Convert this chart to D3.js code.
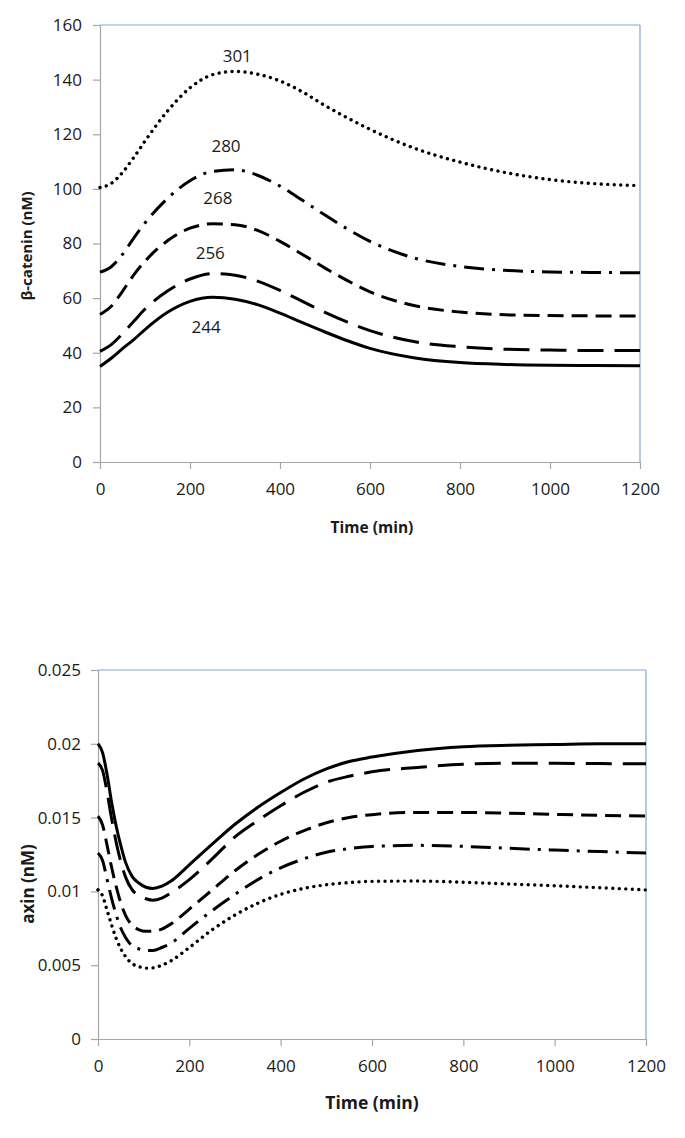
<!DOCTYPE html>
<html>
<head>
<meta charset="utf-8">
<script src="https://cdn.jsdelivr.net/npm/d3@7"></script>
<style>
  html, body { margin: 0; padding: 0; background: #fff; }
  svg { display: block; }
  text { font-family: "Open Sans", "Liberation Sans", sans-serif; fill: #1a1a1a; }
</style>
</head>
<body>
<svg id="chart" width="685" height="1138"></svg>
<script>
// ---------- DATA ----------
// Top panel: beta-catenin (nM) vs time (min)
const bcatTime = [0,25,50,75,100,150,200,250,300,350,400,450,500,550,600,700,800,900,1000,1100,1200];
const bcatSolid   = [35.0,38.0,41.5,44.8,48.5,54.8,58.8,60.3,59.6,57.6,54.5,51.0,47.6,44.4,41.6,38.1,36.4,35.7,35.4,35.3,35.2];
const bcatLong    = [40.5,43.0,47.0,51.5,56.0,62.6,67.0,69.0,68.4,66.2,62.8,58.8,54.8,51.2,48.1,44.0,42.2,41.3,41.0,40.8,40.8];
const bcatMedium  = [54.0,57.0,62.5,68.5,73.5,81.0,85.6,87.2,86.9,84.8,80.8,76.0,71.0,66.4,62.3,57.2,54.9,53.9,53.6,53.5,53.5];
const bcatDashDot = [69.5,71.5,76.0,82.0,87.5,96.5,103.0,106.4,107.0,105.0,101.0,95.8,90.4,85.3,80.8,74.6,71.6,70.2,69.6,69.4,69.3];
const bcatDotted  = [100.5,102.0,106.0,111.5,117.5,128.5,137.0,141.8,143.0,142.0,139.5,135.5,130.5,126.0,121.8,114.8,109.8,106.0,103.4,101.9,101.2];
// peak-time annotations (label, x time, y value)
const peakLabels = ["244","256","268","280","301"];
const peakLabelX = [236,245,262,280,305];
const peakLabelY = [49,76,96,115,148];

// Bottom panel: axin (nM) vs time (min)
const axinTime = [0,10,20,30,40,50,60,75,90,105,120,140,160,200,250,300,350,400,450,500,550,600,700,800,900,1000,1100,1200];
const axinSolid   = [0.0200,0.0194,0.0179,0.0160,0.0144,0.0131,0.0120,0.0110,0.01055,0.01028,0.0102,0.01035,0.0107,0.0118,0.0132,0.01455,0.0157,0.0167,0.0176,0.0183,0.0188,0.0191,0.01955,0.0198,0.0199,0.01995,0.0200,0.0200];
const axinLong    = [0.0187,0.0182,0.0167,0.0149,0.0133,0.0120,0.0110,0.0101,0.0097,0.0095,0.0094,0.00955,0.0099,0.0108,0.0122,0.0137,0.0148,0.0158,0.0167,0.0174,0.0178,0.0181,0.0184,0.01862,0.01868,0.01868,0.01866,0.01865];
const axinMedium  = [0.0151,0.0145,0.0131,0.0116,0.0103,0.0092,0.0084,0.0077,0.0074,0.0073,0.0073,0.00745,0.0078,0.0088,0.0101,0.0114,0.0125,0.0134,0.0141,0.01465,0.0150,0.0152,0.01535,0.01535,0.0153,0.01522,0.01515,0.0151];
const axinDashDot = [0.0126,0.0121,0.0108,0.0095,0.0084,0.0075,0.0069,0.0063,0.0061,0.0060,0.0060,0.0062,0.0065,0.0075,0.0087,0.0098,0.0108,0.0116,0.0122,0.01265,0.0129,0.01305,0.01312,0.01305,0.01292,0.0128,0.0127,0.0126];
const axinDotted  = [0.0101,0.0097,0.0087,0.0077,0.0068,0.0061,0.0056,0.0051,0.0049,0.0048,0.00482,0.0050,0.0053,0.0062,0.0074,0.0084,0.0092,0.0098,0.0102,0.01045,0.0106,0.01068,0.0107,0.01062,0.0105,0.01038,0.01025,0.0101];

const xTicks = [0,200,400,600,800,1000,1200];
const bcatTicks = [0,20,40,60,80,100,120,140,160];
const axinTicks = [0,0.005,0.01,0.015,0.02,0.025];
const axinTickLabels = ["0","0.005","0.01","0.015","0.02","0.025"];

// ---------- STYLES ----------
const lineStyles = {
  solid:   { dash: null,        width: 3,   cap: "butt" },
  long:    { dash: "26,11",     width: 3,   cap: "butt" },
  medium:  { dash: "16,8",      width: 3,   cap: "butt" },
  dashdot: { dash: "20,8,3,8",  width: 3,   cap: "butt" },
  dotted:  { dash: "0.01,6.5",  width: 3.4, cap: "round" }
};

const svg = d3.select("#chart");

function drawPanel(cfg) {
  const g = svg.append("g");
  const x = d3.scaleLinear().domain([0, 1200]).range([cfg.left, cfg.right]);
  const y = d3.scaleLinear().domain(cfg.yDomain).range([cfg.bottom, cfg.top]);

  const xAxis = d3.axisBottom(x).tickValues(xTicks).tickSize(7).tickSizeOuter(0).tickPadding(cfg.xPad)
    .tickFormat(d3.format("d"));
  const yAxis = d3.axisLeft(y).tickValues(cfg.yTicks).tickSize(7).tickSizeOuter(0).tickPadding(cfg.yPad)
    .tickFormat((d, i) => cfg.yLabels ? cfg.yLabels[i] : d);

  const gx = g.append("g").attr("transform", `translate(0,${cfg.bottom})`).call(xAxis);
  const gy = g.append("g").attr("transform", `translate(${cfg.left},0)`).call(yAxis);
  [gx, gy].forEach(a => {
    a.select(".domain").attr("stroke", "#a6a6a6").attr("stroke-width", 1.2);
    a.selectAll(".tick line").attr("stroke", "#a6a6a6").attr("stroke-width", 1.2);
    a.selectAll(".tick text").style("font-size", cfg.tickFont + "px").attr("fill", "#262626")
      .style("font-family", '"Open Sans", sans-serif');
  });

  g.append("line").attr("x1", cfg.left).attr("x2", cfg.right).attr("y1", cfg.top).attr("y2", cfg.top)
    .attr("stroke", "#86a6d2").attr("stroke-width", 1.2);
  g.append("line").attr("x1", cfg.right).attr("x2", cfg.right).attr("y1", cfg.top).attr("y2", cfg.bottom)
    .attr("stroke", "#86a6d2").attr("stroke-width", 1.2);

  const line = d3.line().x((d, i) => x(cfg.time[i])).y(d => y(d)).curve(d3.curveMonotoneX);
  cfg.series.forEach(s => {
    const st = lineStyles[s.style];
    g.append("path").datum(s.values)
      .attr("d", line)
      .attr("fill", "none")
      .attr("stroke", "#000")
      .attr("stroke-width", st.width)
      .attr("stroke-linecap", st.cap)
      .attr("stroke-dasharray", st.dash);
  });

  g.append("text").attr("x", cfg.xTitleX).attr("y", cfg.xTitleY).attr("text-anchor", "middle")
    .attr("dominant-baseline", "middle")
    .style("font-size", cfg.xTitleFont + "px").style("font-weight", "bold").text("Time (min)");
  g.append("text").attr("transform", `translate(${cfg.yTitleX},${cfg.yTitleY}) rotate(-90)`)
    .attr("text-anchor", "middle").attr("dominant-baseline", "middle")
    .style("font-size", cfg.yTitleFont + "px").style("font-weight", "bold").text(cfg.yTitle);

  return { g, x, y };
}

const topPanel = drawPanel({
  left: 100, right: 640, top: 25, bottom: 462,
  yDomain: [0, 160], yTicks: bcatTicks, yLabels: null,
  time: bcatTime,
  series: [
    { values: bcatSolid, style: "solid" },
    { values: bcatLong, style: "long" },
    { values: bcatMedium, style: "medium" },
    { values: bcatDashDot, style: "dashdot" },
    { values: bcatDotted, style: "dotted" }
  ],
  tickFont: 17, xPad: 14, yPad: 11,
  xTitleX: 372, xTitleY: 529, xTitleFont: 15.5,
  yTitleX: 28, yTitleY: 246, yTitleFont: 15, yTitle: "β-catenin (nM)"
});

topPanel.g.selectAll("text.peak").data(peakLabels).enter().append("text")
  .attr("class", "peak")
  .attr("x", (d, i) => topPanel.x(peakLabelX[i]))
  .attr("y", (d, i) => topPanel.y(peakLabelY[i]))
  .attr("text-anchor", "middle").attr("dominant-baseline", "middle")
  .style("font-size", "17px")
  .text(d => d);

drawPanel({
  left: 98, right: 646, top: 670, bottom: 1039,
  yDomain: [0, 0.025], yTicks: axinTicks, yLabels: axinTickLabels,
  time: axinTime,
  series: [
    { values: axinSolid, style: "solid" },
    { values: axinLong, style: "long" },
    { values: axinMedium, style: "medium" },
    { values: axinDashDot, style: "dashdot" },
    { values: axinDotted, style: "dotted" }
  ],
  tickFont: 17, xPad: 14, yPad: 10,
  xTitleX: 372, xTitleY: 1104, xTitleFont: 17.5,
  yTitleX: 29, yTitleY: 884, yTitleFont: 17, yTitle: "axin (nM)"
});
</script>
</body>
</html>
